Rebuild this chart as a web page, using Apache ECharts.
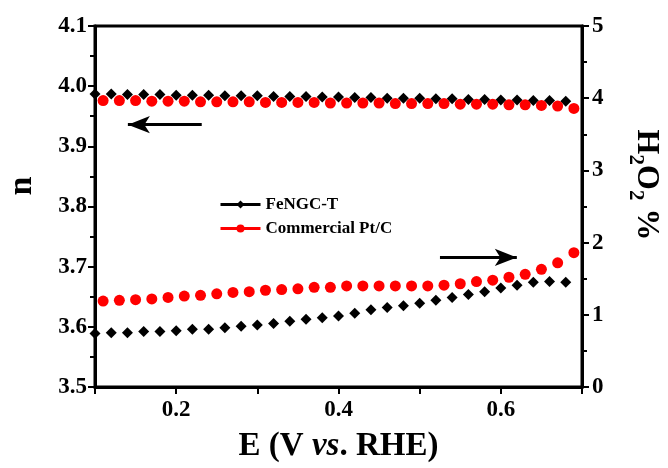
<!DOCTYPE html>
<html>
<head>
<meta charset="utf-8">
<script src="https://cdn.jsdelivr.net/npm/echarts@6/dist/echarts.min.js"></script>
<style>
html,body{margin:0;padding:0;background:#fff;}
#c{width:668px;height:468px;}
</style>
</head>
<body>
<div id="c"></div>
<script>
// ---- data ----
const E_fe = [0.10,0.12,0.14,0.16,0.18,0.20,0.22,0.24,0.26,0.28,0.30,0.32,0.34,0.36,0.38,0.40,0.42,0.44,0.46,0.48,0.50,0.52,0.54,0.56,0.58,0.60,0.62,0.64,0.66,0.68];
const E_pt = [0.11,0.13,0.15,0.17,0.19,0.21,0.23,0.25,0.27,0.29,0.31,0.33,0.35,0.37,0.39,0.41,0.43,0.45,0.47,0.49,0.51,0.53,0.55,0.57,0.59,0.61,0.63,0.65,0.67,0.69];
const n_fe = [3.987,3.987,3.986,3.986,3.986,3.985,3.985,3.985,3.984,3.984,3.984,3.983,3.983,3.983,3.982,3.982,3.981,3.981,3.980,3.980,3.980,3.979,3.979,3.978,3.978,3.977,3.977,3.976,3.976,3.975];
const n_pt = [3.976,3.976,3.976,3.975,3.975,3.975,3.974,3.974,3.974,3.974,3.973,3.973,3.973,3.973,3.972,3.972,3.972,3.972,3.971,3.971,3.971,3.971,3.970,3.970,3.970,3.969,3.969,3.968,3.967,3.963];
const h2o2_fe = [0.74,0.75,0.75,0.77,0.77,0.78,0.80,0.80,0.82,0.84,0.86,0.88,0.91,0.94,0.96,0.985,1.02,1.07,1.10,1.125,1.16,1.20,1.24,1.28,1.32,1.37,1.41,1.45,1.46,1.45];
const h2o2_pt = [1.19,1.20,1.21,1.22,1.24,1.26,1.27,1.29,1.31,1.32,1.34,1.35,1.36,1.38,1.38,1.40,1.40,1.40,1.40,1.40,1.40,1.41,1.43,1.46,1.48,1.52,1.56,1.63,1.72,1.86];
const xLabels = [0.2, 0.4, 0.6];
const seriesNames = ['FeNGC-T', 'Commercial Pt/C'];

const FONT = '"Liberation Serif","Times New Roman",serif';
const chart = echarts.init(document.getElementById('c'), null, {renderer:'canvas'});

const pair = (xs, ys) => xs.map((x, i) => [x, ys[i]]);
const axisLine = {show:true, lineStyle:{color:'#000', width:3}};
const tickLbl = {color:'#000', fontFamily:FONT, fontWeight:'bold', fontSize:23};

const option = {
  backgroundColor:'#fff',
  animation:false,
  grid:{left:95, right:86, top:26, bottom:79, show:true, borderColor:'#000', borderWidth:3, backgroundColor:'transparent'},
  legend:{
    data:seriesNames, orient:'vertical', left:214, top:191,
    itemWidth:40, itemHeight:10, itemGap:7, itemStyle:{},
    lineStyle:{width:3, opacity:1},
    textStyle:{color:'#000', fontFamily:FONT, fontWeight:'bold', fontSize:17}
  },
  xAxis:{
    type:'value', min:0.1, max:0.7, interval:0.1,
    axisLine:axisLine,
    axisTick:{show:true, inside:false, length:7, lineStyle:{color:'#000', width:2}},
    splitLine:{show:false},
    axisLabel:Object.assign({margin:12, showMinLabel:true, showMaxLabel:true,
      formatter:v => xLabels.some(t => Math.abs(t - v) < 1e-6) ? v.toFixed(1) : ''}, tickLbl),
    name:'{a|E (V }{b|vs}{a|. RHE)}', nameLocation:'middle', nameGap:43,
    nameTextStyle:{rich:{
      a:{fontFamily:FONT, fontWeight:'bold', fontSize:33, color:'#000'},
      b:{fontFamily:FONT, fontWeight:'bold', fontStyle:'italic', fontSize:33, color:'#000'}
    }}
  },
  yAxis:[{
    type:'value', min:3.5, max:4.1, interval:0.1, position:'left',
    axisLine:axisLine,
    axisTick:{show:true, inside:false, length:7, lineStyle:{color:'#000', width:2}},
    minorTick:{show:true, splitNumber:2, length:5, lineStyle:{color:'#000', width:2}},
    splitLine:{show:false},
    axisLabel:Object.assign({margin:8, formatter:v => v.toFixed(1)}, tickLbl)
  },{
    type:'value', min:0, max:5, interval:1, position:'right',
    axisLine:axisLine,
    axisTick:{show:true, inside:false, length:7, lineStyle:{color:'#000', width:2}},
    minorTick:{show:true, splitNumber:2, length:5, lineStyle:{color:'#000', width:2}},
    splitLine:{show:false},
    axisLabel:Object.assign({margin:10}, tickLbl)
  }],
  graphic:[
    {type:'text', x:22, y:186, rotation:Math.PI/2,
      style:{text:'n', fill:'#000', font:'bold 34px ' + FONT, align:'center', verticalAlign:'middle'}},
    {type:'text', x:646, y:185, rotation:-Math.PI/2,
      style:{text:'{a|H}{s|2}{a|O}{s|2}{a| %}', align:'center', verticalAlign:'middle',
        rich:{
          a:{fontFamily:FONT, fontWeight:'bold', fontSize:32, lineHeight:32, verticalAlign:'top', fill:'#000'},
          s:{fontFamily:FONT, fontWeight:'bold', fontSize:21, lineHeight:21, verticalAlign:'top', padding:[16,0,0,0], fill:'#000'}
        }}}
  ],
  series:[
    {name:seriesNames[0], type:'line', yAxisIndex:0, data:pair(E_fe, n_fe),
      symbol:'diamond', symbolSize:11, showSymbol:true, itemStyle:{color:'#000'},
      lineStyle:{opacity:0, color:'#000'}, z:2,
      markLine:{silent:true, animation:false, label:{show:false}, lineStyle:{color:'#000', width:3, type:'solid'},
        data:[[{coord:[0.2315, 3.936], symbol:'none'}, {coord:[0.1405, 3.936], symbol:'arrow', symbolSize:[13, 22]}]]}},
    {name:seriesNames[0], type:'line', yAxisIndex:1, data:pair(E_fe, h2o2_fe),
      symbol:'diamond', symbolSize:11, showSymbol:true, itemStyle:{color:'#000'},
      lineStyle:{opacity:0, color:'#000'}, z:2,
      markLine:{silent:true, animation:false, label:{show:false}, lineStyle:{color:'#000', width:3, type:'solid'},
        data:[[{coord:[0.525, 1.795], symbol:'none'}, {coord:[0.6197, 1.795], symbol:'arrow', symbolSize:[13, 22]}]]}},
    {name:seriesNames[1], type:'line', yAxisIndex:0, data:pair(E_pt, n_pt),
      symbol:'circle', symbolSize:11, showSymbol:true, itemStyle:{color:'#ff0000'},
      lineStyle:{opacity:0, color:'#ff0000'}, z:3},
    {name:seriesNames[1], type:'line', yAxisIndex:1, data:pair(E_pt, h2o2_pt),
      symbol:'circle', symbolSize:11, showSymbol:true, itemStyle:{color:'#ff0000'},
      lineStyle:{opacity:0, color:'#ff0000'}, z:3}
  ]
};
chart.setOption(option);
</script>
</body>
</html>
